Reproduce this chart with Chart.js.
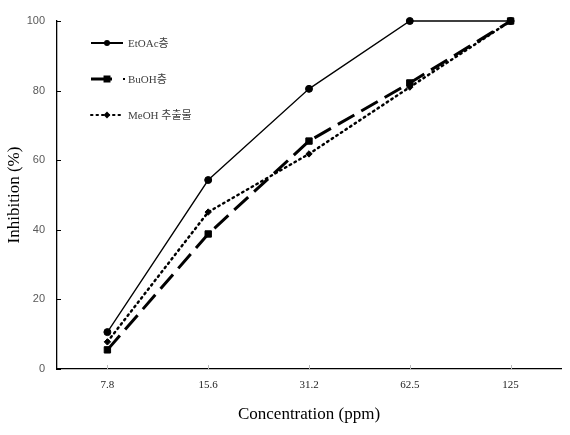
<!DOCTYPE html>
<html>
<head>
<meta charset="utf-8">
<script src="https://cdn.jsdelivr.net/npm/chart.js@4"></script>
<style>
  body { margin: 0; background: #fff; }
  #wrap { width: 570px; height: 435px; }
</style>
</head>
<body>
<div id="wrap"><canvas id="lineChart" width="570" height="435"></canvas></div>
<script>
// DATA

const concentrations = ["7.8", "15.6", "31.2", "62.5", "125"];
const etoacValues = [10.6, 54.3, 80.5, 100, 100];
const buohValues = [5.5, 38.8, 65.5, 82.2, 100];
const meohValues = [7.8, 45.1, 61.8, 81.0, 100];
const yTicks = [0, 20, 40, 60, 80, 100];

const serif = "'Liberation Serif', 'Times New Roman', 'Noto Sans CJK KR', serif";

// legend drawn inside the plot, top-left (small markers like the original)
const insideLegend = {
  id: "insideLegend",
  afterDraw(chart) {
    const ctx = chart.ctx;
    const rows = [43, 79, 115];
    chart.data.datasets.forEach((ds, i) => {
      const y = rows[i];
      ctx.save();
      ctx.strokeStyle = ds.borderColor;
      ctx.fillStyle = "#000";
      ctx.lineWidth = ds.legendWidth;
      ctx.lineCap = ds.borderCapStyle || "butt";
      ctx.setLineDash(ds.legendDash || []);
      ctx.beginPath();
      ctx.moveTo(91, y);
      ctx.lineTo(ds.legendEnd, y);
      ctx.stroke();
      ctx.setLineDash([]);
      Chart.helpers.drawPoint(ctx, {
        pointStyle: ds.pointStyle,
        radius: ds.legendRadius,
        borderWidth: 1,
        rotation: 0
      }, 107, y);
      if (ds.legendDot) {
        ctx.fillRect(123, y - 1, 2, 2);
      }
      ctx.fillStyle = "#404040";
      ctx.font = "11px " + serif;
      ctx.textBaseline = "middle";
      ctx.fillText(ds.label, 128, y + 1);
      ctx.restore();
    });
  }
};

// small inside tick marks on both axes
const innerTicks = {
  id: "innerTicks",
  afterDraw(chart) {
    const ctx = chart.ctx;
    const x = chart.scales.x;
    const y = chart.scales.y;
    ctx.save();
    ctx.strokeStyle = "#000";
    ctx.lineWidth = 1;
    ctx.beginPath();
    y.ticks.forEach((t, i) => {
      const py = Math.round(y.getPixelForTick(i)) + 0.5;
      ctx.moveTo(x.left, py);
      ctx.lineTo(x.left + 4, py);
    });
    ctx.stroke();
    ctx.strokeStyle = "#bbb";
    ctx.beginPath();
    x.ticks.forEach((t, i) => {
      const px = Math.round(x.getPixelForTick(i)) + 0.5;
      ctx.moveTo(px, y.bottom);
      ctx.lineTo(px, y.bottom - 4);
    });
    ctx.stroke();
    ctx.restore();
  }
};

const lineCtx = document.getElementById("lineChart").getContext("2d");

new Chart(lineCtx, {
  type: "line",
  data: {
    labels: concentrations,
    datasets: [
      {
        label: "EtOAc층",
        data: etoacValues,
        borderColor: "#000",
        backgroundColor: "#000",
        borderWidth: 1.3,
        pointStyle: "circle",
        pointRadius: 3.5,
        pointBorderWidth: 1,
        legendDash: [],
        legendWidth: 2,
        legendEnd: 123,
        legendRadius: 2
      },
      {
        label: "BuOH층",
        data: buohValues,
        borderColor: "#000",
        backgroundColor: "#000",
        borderWidth: 3,
        borderDash: [19, 8],
        pointStyle: "rect",
        pointRadius: 4.5,
        pointBorderWidth: 1,
        legendDash: [],
        legendWidth: 3,
        legendEnd: 112,
        legendRadius: 2.8,
        legendDot: true
      },
      {
        label: "MeOH 추출물",
        data: meohValues,
        borderColor: "#000",
        backgroundColor: "#000",
        borderWidth: 2.5,
        borderDash: [1.5, 4],
        borderCapStyle: "round",
        pointStyle: "rectRot",
        pointRadius: 3.2,
        pointBorderWidth: 1,
        legendDash: [1.5, 4],
        legendWidth: 2,
        legendEnd: 123,
        legendRadius: 2
      }
    ]
  },
  options: {
    responsive: false,
    animation: false,
    clip: false,
    layout: { padding: { top: 21, right: 9, left: 0, bottom: 0 } },
    plugins: {
      legend: { display: false },
      tooltip: { enabled: false }
    },
    scales: {
      x: {
        offset: true,
        grid: { display: false, drawTicks: false },
        border: { color: "#000", width: 1.3 },
        ticks: {
          color: "#222",
          font: { family: serif, size: 11 },
          padding: 10
        },
        title: {
          display: true,
          text: "Concentration (ppm)",
          color: "#000",
          font: { family: serif, size: 17 },
          padding: { top: 0, bottom: 10 }
        },
        afterFit: s => { s.height = 435 - 369; }
      },
      y: {
        min: 0,
        max: 100,
        afterBuildTicks: s => { s.ticks = yTicks.map(v => ({ value: v })); },
        grid: { display: false, drawTicks: false },
        border: { color: "#000", width: 1.3 },
        ticks: {
          color: "#595959",
          font: { family: "'Liberation Sans', Arial, sans-serif", size: 11 },
          padding: 12
        },
        title: {
          display: true,
          text: "Inhibition (%)",
          color: "#000",
          font: { family: serif, size: 17 },
          padding: { top: 4, bottom: 0 }
        },
        afterFit: s => { s.width = 57; }
      }
    }
  },
  plugins: [insideLegend, innerTicks]
});
</script>
</body>
</html>
